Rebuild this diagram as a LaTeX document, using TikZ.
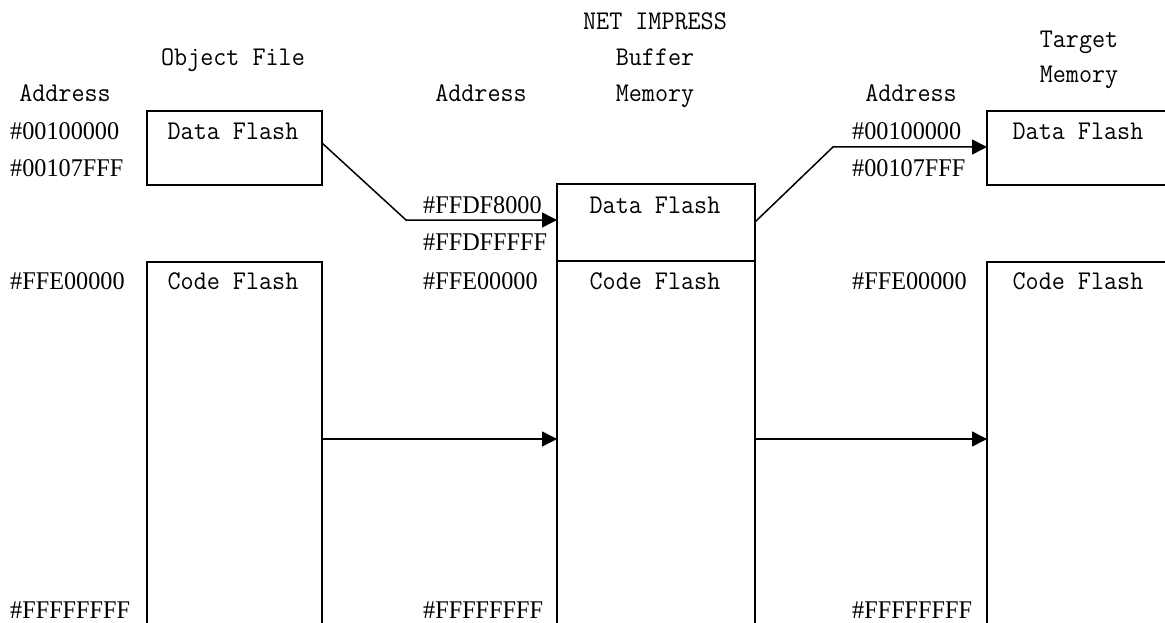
\documentclass[tikz,border=0pt]{standalone}
\usepackage{fontspec}
\newfontfamily\addrfont[FakeStretch=0.95]{Liberation Serif}
\newfontfamily\labelfont[FakeStretch=0.94]{Latin Modern Mono}
\usetikzlibrary{arrows.meta,calc}
\begin{document}
\begin{tikzpicture}[x=1pt,y=-1pt,
  region/.style={inner sep=0pt,outer sep=0pt,anchor=north west},
  edge/.style={line width=2pt},
  label/.style={font=\labelfont\fontsize{27}{31}\selectfont,inner sep=0pt,anchor=base},
  addr/.style={font=\addrfont\fontsize{25.5}{30}\selectfont,inner sep=0pt,anchor=base west},
  flow/.style={line width=1.5pt,-{Triangle[length=15pt,width=15pt]}}]
\useasboundingbox (0,0) rectangle (1165,623);

% memory regions
\node[region,minimum width=175pt,minimum height=74pt]  (ofd) at (147,111) {};
\node[region,minimum width=175pt,minimum height=361pt] (ofc) at (147,262) {};
\node[region,minimum width=198pt,minimum height=77pt]  (nid) at (557,184) {};
\node[region,minimum width=198pt,minimum height=362pt] (nic) at (557,261) {};
\node[region,minimum width=178pt,minimum height=74pt]  (tmd) at (987,111) {};
\node[region,minimum width=178pt,minimum height=361pt] (tmc) at (987,262) {};

% region outlines (open towards the page edges)
\draw[edge] (ofd.north west) rectangle (ofd.south east);
\draw[edge] (ofc.south west) -- (ofc.north west) -- (ofc.north east) -- (ofc.south east);
\draw[edge] (nid.north west) rectangle (nid.south east);
\draw[edge] (nic.north west) -- (nic.south west);
\draw[edge] (nic.north east) -- (nic.south east);
\draw[edge] (tmd.north east) -- (tmd.north west) -- (tmd.south west) -- (tmd.south east);
\draw[edge] (tmc.north east) -- (tmc.north west) -- (tmc.south west);

% column headings
\node[label] (h1)  at (233,66)  {Object File};
\node[label] (h2a) at (655,30)  {NET IMPRESS};
\node[label] (h2b) at (655,66)  {Buffer};
\node[label] (h2c) at (655,102) {Memory};
\node[label] (h3a) at (1079,48) {Target};
\node[label] (h3b) at (1079,83) {Memory};
\node[label] (a1)  at (65,102)  {Address};
\node[label] (a2)  at (481,102) {Address};
\node[label] (a3)  at (911,102) {Address};

% region names
\node[label] (t1) at (233,140)  {Data Flash};
\node[label] (t2) at (233,289)  {Code Flash};
\node[label] (t3) at (655,213)  {Data Flash};
\node[label] (t4) at (655,289)  {Code Flash};
\node[label] (t5) at (1078,140) {Data Flash};
\node[label] (t6) at (1078,289) {Code Flash};

% addresses
\node[addr] (l1) at (10,140)  {\#00100000};
\node[addr] (l2) at (10,176)  {\#00107FFF};
\node[addr] (l3) at (10,289)  {\#FFE00000};
\node[addr] (l4) at (10,618)  {\#FFFFFFFF};
\node[addr] (m1) at (423,213) {\#FFDF8000};
\node[addr] (m2) at (423,250) {\#FFDFFFFF};
\node[addr] (m3) at (423,289) {\#FFE00000};
\node[addr] (m4) at (423,618) {\#FFFFFFFF};
\node[addr] (r1) at (852,140) {\#00100000};
\node[addr] (r2) at (852,176) {\#00107FFF};
\node[addr] (r3) at (852,289) {\#FFE00000};
\node[addr] (r4) at (852,618) {\#FFFFFFFF};

% transfers
\coordinate (k1) at (406,220);
\coordinate (k2) at (833,147);
\coordinate (cl) at (0,439);
\draw[flow] ($(ofd.north east)+(0,32)$) -- (k1) -- (k1 -| nid.west);
\draw[flow] ($(nid.north east)+(0,38)$) -- (k2) -- (k2 -| tmd.west);
\draw[flow] (cl -| ofc.east) -- (cl -| nic.west);
\draw[flow] (cl -| nic.east) -- (cl -| tmc.west);
\end{tikzpicture}
\end{document}
